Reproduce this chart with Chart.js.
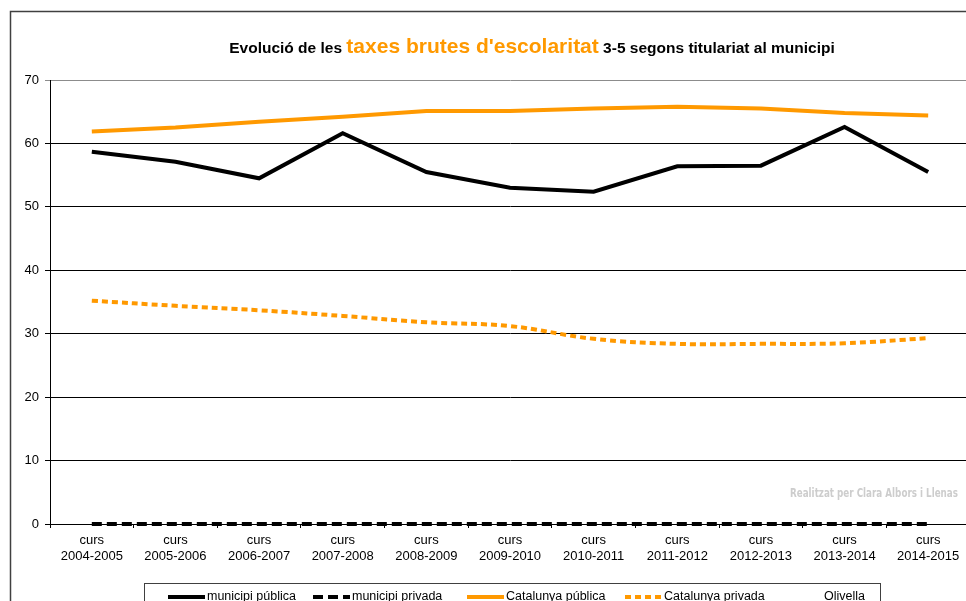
<!DOCTYPE html>
<html>
<head>
<meta charset="utf-8">
<script src="https://cdn.jsdelivr.net/npm/chart.js@4"></script>
<style>
  html, body { margin: 0; padding: 0; background: #fff; overflow: hidden; }
  #wrap { width: 976px; height: 601px; }
</style>
</head>
<body>
<div id="wrap"><canvas id="taxes" width="976" height="601"></canvas></div>
<script>
const cursos = ['2004-2005', '2005-2006', '2006-2007', '2007-2008', '2008-2009', '2009-2010',
                '2010-2011', '2011-2012', '2012-2013', '2013-2014', '2014-2015'];
const municipiPublica  = [58.7, 57.1, 54.5, 61.6, 55.5, 53.0, 52.4, 56.4, 56.5, 62.6, 55.5];
const municipiPrivada  = [0, 0, 0, 0, 0, 0, 0, 0, 0, 0, 0];
const catalunyaPublica = [61.9, 62.5, 63.4, 64.2, 65.1, 65.1, 65.5, 65.8, 65.5, 64.8, 64.4];
const catalunyaPrivada = [35.2, 34.4, 33.7, 32.8, 31.8, 31.2, 29.2, 28.4, 28.4, 28.5, 29.3];
const olivella = [];

const ORANGE = '#FF9900';
const FONT = '"Liberation Sans", Arial, sans-serif';

// frame, title, watermark and the boxed legend at the foot
const decor = {
    id: 'decor',
    beforeDraw(chart) {
        const c = chart.ctx;
        c.save();
        c.strokeStyle = '#404040';
        c.lineWidth = 1.5;
        c.strokeRect(10.5, 11.5, 1100, 800);
        c.restore();
    },
    afterDraw(chart) {
        const c = chart.ctx;
        c.save();
        // title in three pieces
        const parts = [
            { t: 'Evolució de les ', f: 'bold 15.5px ' + FONT, col: '#000' },
            { t: "taxes brutes d'escolaritat", f: 'bold 21px ' + FONT, col: ORANGE },
            { t: ' 3-5 segons titulariat al municipi', f: 'bold 15.5px ' + FONT, col: '#000' }
        ];
        let total = 0;
        parts.forEach(p => { c.font = p.f; p.w = c.measureText(p.t).width; total += p.w; });
        let x = 532 - total / 2;
        c.textBaseline = 'alphabetic';
        parts.forEach(p => {
            c.font = p.f; c.fillStyle = p.col;
            c.fillText(p.t, x, 53);
            x += p.w;
        });

        // watermark
        c.font = 'bold 12px "Liberation Sans Narrow", "DejaVu Sans Condensed", ' + FONT;
        const wm = 'Realitzat per Clara Albors i Llenas';
        const ww = c.measureText(wm).width;
        c.fillStyle = '#cdcdcd';
        c.translate(790, 497);
        c.scale(168 / ww, 1);
        c.fillText(wm, 0, 0);
        c.setTransform(1, 0, 0, 1, 0, 0);

        // legend box
        c.strokeStyle = '#404040';
        c.lineWidth = 1;
        c.strokeRect(144.5, 583.5, 736, 40);
        const itemX = [168, 313, 467, 625, 785];
        c.font = '12.5px ' + FONT;
        c.textBaseline = 'middle';
        chart.data.datasets.forEach((ds, i) => {
            const lx = itemX[i];
            const ly = 597;
            c.beginPath();
            c.setLineDash(ds.borderDash || []);
            c.strokeStyle = ds.borderColor;
            c.lineWidth = 4;
            c.moveTo(lx, ly);
            c.lineTo(lx + 37, ly);
            c.stroke();
            c.setLineDash([]);
            c.fillStyle = '#000';
            c.fillText(ds.label, lx + 39, ly);
        });
        c.restore();
    }
};

new Chart(document.getElementById('taxes'), {
    type: 'line',
    data: {
        labels: cursos.map(k => ['curs', k]),
        datasets: [
            { label: 'municipi pública', data: municipiPublica, borderColor: '#000', borderWidth: 4, tension: 0 },
            { label: 'municipi privada', data: municipiPrivada, borderColor: '#000', borderWidth: 4, borderDash: [10, 5] },
            { label: 'Catalunya pública', data: catalunyaPublica, borderColor: ORANGE, borderWidth: 4, tension: 0 },
            { label: 'Catalunya privada', data: catalunyaPrivada, borderColor: ORANGE, borderWidth: 4, borderDash: [6, 4], tension: 0.4 },
            { label: 'Olivella', data: olivella, borderColor: '#fff', borderWidth: 4 }
        ]
    },
    options: {
        responsive: false,
        animation: false,
        devicePixelRatio: 1,
        clip: false,
        elements: { point: { radius: 0 } },
        layout: { padding: { top: 80, left: 0, right: 6, bottom: 0 } },
        plugins: {
            legend: { display: false },
            title: { display: false },
            tooltip: { enabled: false }
        },
        scales: {
            x: {
                offset: true,
                afterFit(s) { s.height = 77; },
                border: { color: '#000', width: 1 },
                grid: { offset: true, drawOnChartArea: false, drawTicks: true, tickLength: 4, color: '#000' },
                ticks: { color: '#000', padding: 5, maxRotation: 0, autoSkip: false,
                         font: { family: FONT, size: 13, lineHeight: 1.2 } }
            },
            y: {
                min: 0, max: 70,
                afterFit(s) { s.width = 50; },
                border: { color: '#000', width: 1 },
                grid: {
                    color: ctx => ctx.tick && ctx.tick.value === 70 ? '#8c8c8c' : '#000',
                    tickLength: 5, drawTicks: true
                },
                ticks: { stepSize: 10, color: '#000', padding: 6, font: { family: FONT, size: 13 } }
            }
        }
    },
    plugins: [decor]
});
</script>
</body>
</html>
